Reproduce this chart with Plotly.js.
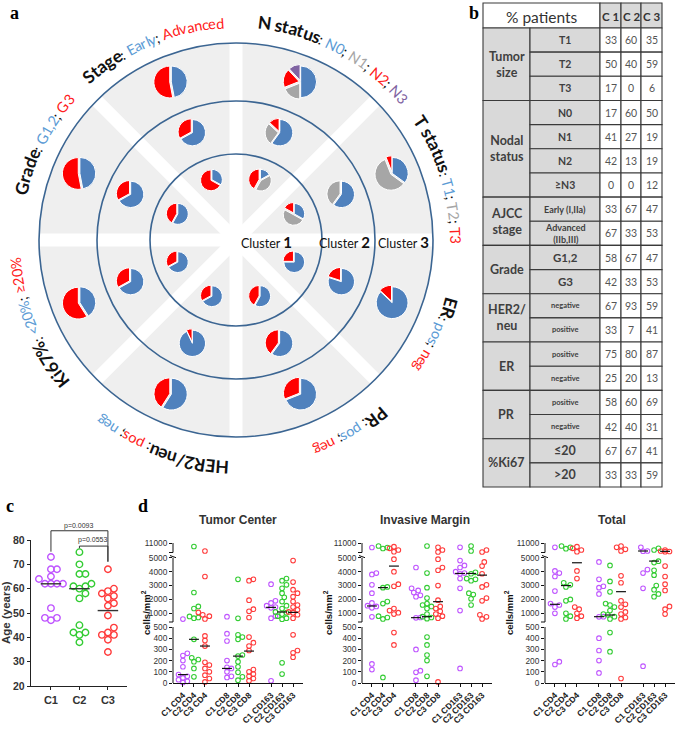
<!DOCTYPE html>
<html><head><meta charset="utf-8">
<script src="https://cdn.plot.ly/plotly-3.0.1.min.js"></script>
<style>body{margin:0;background:#fff}#chart{width:677px;height:729px}</style>
</head><body><div id="chart"></div>
<script>
// ================= DATA =================
// Panel b table (also drives the pies of panel a)
const tableGroups = ["Tumor<br>size","Nodal<br>status","AJCC<br>stage","Grade","HER2/<br>neu","ER","PR","%Ki67"];
const tableGroupSizes = [3,4,2,2,2,2,2,2];
const tableRowLabels = ["T1","T2","T3","N0","N1","N2","≥N3","Early (I,IIa)","Advanced<br>(IIb,III)","G1,2","G3","negative","positive","positive","negative","positive","negative","≤20",">20"];
const clusterNames = ["C 1","C 2","C 3"];
const cluster1Pct = [33,50,17,17,41,42,0,33,67,58,42,67,33,75,25,58,42,67,33];
const cluster2Pct = [60,40,0,60,27,13,0,67,33,67,33,93,7,80,20,60,40,67,33];
const cluster3Pct = [35,59,6,50,19,19,12,47,53,47,53,59,41,87,13,69,31,41,59];

// Panel c: age (years)
const ageCategories = ["C1","C2","C3"];
const ageC1 = [73,68,68,65,64,62,62,62,62,52,48,48,47];
const ageC2 = [75,70,66,66,62,61,61,60,58,56,45,42,42,41,38];
const ageC3 = [68,60,59,58,57,56,54,53,49,44,42,41,41,39,34];
const ageMedians = [62,60,51];

// Panel d: cells/mm2
const dGroupLabels = ["C1 CD4","C2 CD4","C3 CD4","C1 CD8","C2 CD8","C3 CD8","C1 CD163","C2 CD163","C3 CD163"];
const dTickValues = [0,100,200,300,400,500,1000,2000,3000,4000,5000,11000];
const tumorCenterValues = [
  [590,265,245,200,145,75,60,45,30,15,5],
  [10300,2500,1500,1350,780,700,650,390,225,210,190,130,55],
  [9400,3650,1070,900,800,600,420,380,330,185,160,130,100,70,40,10],
  [760,440,375,200,140,130,100,60,50],
  [3450,640,430,410,390,250,240,190,145,95,55,25],
  [3450,3350,1950,1300,1150,700,410,360,330,290,120,100,80,60,40,20],
  [3100,1900,1750,1550,1450,1400,800,650,20],
  [3500,3350,3050,2800,2450,2150,1850,1550,1350,1100,1050,950,800,650,580,180,80],
  [4800,3250,2700,2450,2200,1850,1600,1450,1250,1100,1050,900,650,430,290,270,230]
];
const tumorCenterMedians = [75,390,330,130,240,285,1430,1100,1070];
const invasiveMarginValues = [
  [10100,3900,3800,3050,2450,1750,1550,1500,1400,750,170,120],
  [10400,10100,9900,2900,2850,1850,1700,800,700,600,50],
  [10270,9930,9600,9270,4900,4000,3100,2950,1350,1200,1050,950,450,340],
  [4300,2800,2650,2500,2300,2200,700,680,300,110,95,25],
  [10400,3900,2850,2100,1700,1600,1500,1350,950,760,700,620,410,340,250,200,60],
  [10130,9600,9200,4900,4300,4100,3000,1950,1500,1350,1150,950,800,650,10],
  [10130,4800,4450,4300,4000,3900,3850,3500,2800,1200,130],
  [10400,9400,3950,3850,3500,3450,3350,2450,2350,2050,1600],
  [9600,9200,4700,4400,3850,3050,2900,2100,1900,900,750,600]
];
const invasiveMarginMedians = [1530,2850,4400,690,760,1840,3870,3870,3750];
const totalValues = [
  [10130,4050,3900,3650,2600,1700,1600,1450,1000,190,165],
  [10400,10130,9870,3200,3050,2900,2000,1900,1000,800,600],
  [10270,9930,9600,9270,4050,3500,1450,1300,1000,800,650],
  [4700,3450,2950,2850,2400,760,750,400,290,200,90],
  [4450,3300,2550,1700,1600,1450,1200,950,900,760,600,450,280],
  [10400,10130,9730,9400,3700,3200,1900,1650,1450,1100,950,700,600,40],
  [10130,9400,9350,4150,3900,2800,150],
  [9930,9600,4750,4650,4100,3750,3000,2700,2400,2200],
  [9600,9400,9300,9270,4400,3650,3100,2650,1500,1300,950]
];
const totalMedians = [1650,3000,4640,760,880,2560,9400,4760,9330];

// ================= STYLE / LAYOUT =================
const W=677, H=729;
const BLUE='#4f81bd', RED='#ff0000', GRAY='#a6a6a6', PURPLE='#8064a2';
const T_BLUE='#5b9bd5', T_RED='#ff2020', T_GRAY='#a6a6a6', T_PURPLE='#7f64a2';
const CL_COLORS=['#bf55ff','#33cc33','#ff3b3b'];
const annotations=[], shapes=[], traces=[];
traces.push({type:'scatter',x:[],y:[],xaxis:'x',yaxis:'y',hoverinfo:'skip',showlegend:false});

function txt(x,y,text,size,color,family,extra){
  annotations.push(Object.assign({xref:'x',yref:'y',x:x,y:y,text:text,showarrow:false,
    xanchor:'center',yanchor:'middle',font:{family:family||'Lato',size:size,color:color||'#222'}},extra||{}));
}
function esc(c){return c==='<'?'&lt;':(c==='>'?'&gt;':(c==='&'?'&amp;':c));}

// ---------- Panel a ----------
const A_CX=236, A_CY=240, A_RO=197;
shapes.push({type:'circle',xref:'x',yref:'y',x0:A_CX-A_RO,x1:A_CX+A_RO,y0:A_CY-A_RO,y1:A_CY+A_RO,
  fillcolor:'#efefef',line:{width:0},layer:'below'});
[0,45,90,135].forEach(d=>{
  const a=d*Math.PI/180, ex=A_RO*Math.cos(a), ey=A_RO*Math.sin(a);
  shapes.push({type:'line',xref:'x',yref:'y',x0:A_CX-ex,y0:A_CY+ey,x1:A_CX+ex,y1:A_CY-ey,
    line:{color:'#ffffff',width:13},layer:'below'});
});
[86,139,A_RO].forEach(r=>shapes.push({type:'circle',xref:'x',yref:'y',x0:A_CX-r,x1:A_CX+r,y0:A_CY-r,y1:A_CY+r,
  fillcolor:'rgba(0,0,0,0)',line:{color:'#3b6592',width:1.6},layer:'below'}));

const pieFeatures=[
  {rows:[7,8],colors:[BLUE,RED],angle:112.5},
  {rows:[3,4,5,6],colors:[BLUE,GRAY,RED,PURPLE],angle:67.5},
  {rows:[0,1,2],colors:[BLUE,GRAY,RED],angle:22.5},
  {rows:[13,14],colors:[BLUE,RED],angle:-22.5},
  {rows:[15,16],colors:[BLUE,RED],angle:-67.5},
  {rows:[11,12],colors:[BLUE,RED],angle:-112.5},
  {rows:[17,18],colors:[BLUE,RED],angle:-157.5},
  {rows:[9,10],colors:[BLUE,RED],angle:157.5}
];
const clusterPcts=[cluster1Pct,cluster2Pct,cluster3Pct];
const PIE_CX=236, PIE_CY=238, ringR=[63,114,169], pieBox=[23,29,35];
pieFeatures.forEach(f=>{
  clusterPcts.forEach((pct,ci)=>{
    const a=f.angle*Math.PI/180;
    const px=PIE_CX+ringR[ci]*Math.cos(a), py=PIE_CY-ringR[ci]*Math.sin(a), D=pieBox[ci];
    traces.push({type:'pie',values:f.rows.map(r=>pct[r]),labels:f.rows.map(r=>tableRowLabels[r]),
      marker:{colors:f.colors,line:{color:'#ffffff',width:1}},sort:false,direction:'clockwise',rotation:0,
      textinfo:'none',hoverinfo:'skip',showlegend:false,pull:f.rows.map((r,i)=>i===0?0:0.1),
      domain:{x:[(px-D/2)/W,(px+D/2)/W],y:[1-(py+D/2)/H,1-(py-D/2)/H]}});
  });
});

// curved labels
const cv=document.createElement('canvas').getContext('2d');
const LB_CX=236, LB_CY=242, LB_R=221, LB_BOLD=17.5, LB_REG=14.5;
function tw(s,size,bold){cv.font=(bold?'bold ':'')+size+'px Lato';return cv.measureText(s).width;}
function arcLabel(segs,centerDeg){
  const items=[];
  segs.forEach(sg=>{for(const ch of sg[0]) items.push({ch:ch,color:sg[1],bold:!!sg[2],size:sg[2]?LB_BOLD:LB_REG});});
  items.forEach(it=>it.w=tw(it.ch,it.size,it.bold));
  const total=items.reduce((s,it)=>s+it.w,0);
  const R=LB_R+5*Math.max(0,-Math.sin(centerDeg*Math.PI/180));
  let a=centerDeg*Math.PI/180+total/R/2;
  items.forEach(it=>{
    const mid=a-it.w/2/R; a-=it.w/R;
    if(it.ch===' ') return;
    const r=R+(it.bold?0:-1.5);
    let ang=90-mid*180/Math.PI; while(ang>180) ang-=360; while(ang<-180) ang+=360;
    txt(LB_CX+r*Math.cos(mid),LB_CY-r*Math.sin(mid),it.bold?'<b>'+esc(it.ch)+'</b>':esc(it.ch),
      it.size,it.color,'Lato',{textangle:ang});
  });
}
const K='#111';
arcLabel([["Stage",K,1],[": ",K],["Early",T_BLUE],["; ",K],["Advanced",T_RED]],113);
arcLabel([["N status",K,1],[": ",K],["N0",T_BLUE],["; ",K],["N1",T_GRAY],["; ",K],["N2",T_RED],["; ",K],["N3",T_PURPLE]],62);
arcLabel([["T status",K,1],[": ",K],["T1",T_BLUE],["; ",K],["T2",T_GRAY],["; ",K],["T3",T_RED]],17);
arcLabel([["ER",K,1],[": ",K],["pos",T_BLUE],["; ",K],["neg",T_RED]],-25);
arcLabel([["PR",K,1],[": ",K],["pos",T_BLUE],["; ",K],["neg",T_RED]],-59);
arcLabel([["HER2/neu",K,1],[": ",K],["pos",T_RED],["; ",K],["neg",T_BLUE]],-110);
arcLabel([["Ki67%",K,1],[": ",K],["<20%",T_BLUE],["; ",K],["≥20%",T_RED]],-158);
arcLabel([["Grade",K,1],[": ",K],["G1,2",T_BLUE],["; ",K],["G3",T_RED]],153);

[[266,1],[344,2],[403,3]].forEach(c=>txt(c[0],242,"Cluster <span style='font-size:15px;font-weight:bold'>"+c[1]+"</span>",12.5,'#111','Lato'));

// panel letters
[["a",14,13],["b",474,13],["c",10,506],["d",143,506]].forEach(l=>txt(l[1],l[2],"<b>"+l[0]+"</b>",18,'#000','Liberation Serif'));

// ---------- Panel b: table ----------
const TCOL=[483,530,600,621,641,662], T_TOP=3, T_HEAD=28, T_BOT=487;
const T_RH=(T_BOT-T_HEAD)/tableRowLabels.length;
const T_GRAYF='#d9d9d9', T_LINE='#3a3a3a';
const subLabelSize=[10.5,10.5,10.5,10.5,10.5,10.5,10.5,9,9,11.5,11.5,7.5,7.5,7.5,7.5,7.5,7.5,12.5,12.5];
function cell(x0,y0,x1,y1,fill){shapes.push({type:'rect',xref:'x',yref:'y',x0:x0,x1:x1,y0:y0,y1:y1,fillcolor:fill,line:{color:T_LINE,width:1.1},layer:'above'});}
cell(TCOL[0],T_TOP,TCOL[2],T_HEAD,'#ffffff');
txt((TCOL[0]+TCOL[2])/2,(T_TOP+T_HEAD)/2+1,"% patients",15.5,'#333');
clusterNames.forEach((n,i)=>{cell(TCOL[2+i],T_TOP,TCOL[3+i],T_HEAD,T_GRAYF);txt((TCOL[2+i]+TCOL[3+i])/2,(T_TOP+T_HEAD)/2+1,"<b>"+n+"</b>",11.5,'#333');});
let rr=0;
tableGroups.forEach((g,gi)=>{
  const y0=T_HEAD+rr*T_RH, y1=y0+tableGroupSizes[gi]*T_RH;
  cell(TCOL[0],y0,TCOL[1],y1,T_GRAYF);
  txt((TCOL[0]+TCOL[1])/2,(y0+y1)/2,"<b>"+g+"</b>",12.5,'#3f3f3f');
  rr+=tableGroupSizes[gi];
});
tableRowLabels.forEach((lab,i)=>{
  const y0=T_HEAD+i*T_RH, y1=y0+T_RH;
  cell(TCOL[1],y0,TCOL[2],y1,T_GRAYF);
  txt((TCOL[1]+TCOL[2])/2,(y0+y1)/2,"<b>"+lab+"</b>",subLabelSize[i],'#3f3f3f');
  clusterPcts.forEach((pct,c)=>{
    cell(TCOL[2+c],y0,TCOL[3+c],y1,'#ffffff');
    txt((TCOL[2+c]+TCOL[3+c])/2,(y0+y1)/2,String(pct[i]),10.5,'#555');
  });
});

// ---------- beeswarm helper ----------
function swarm(ys,spacing,maxOff){
  const idx=ys.map((v,i)=>i).sort((a,b)=>ys[a]-ys[b]);
  const placed=[], off=new Array(ys.length).fill(0);
  idx.forEach(i=>{
    const y=ys[i]; let best=0;
    for(let k=0;k<40;k++){
      const cand=(k%2===1?1:-1)*Math.ceil(k/2)*spacing/2;
      if(Math.abs(cand)>maxOff) break;
      if(placed.every(p=>Math.hypot(p[0]-cand,p[1]-y)>=spacing)){best=cand;break;}
    }
    off[i]=best; placed.push([best,y]);
  });
  return off;
}

const layout={width:W,height:H,margin:{l:0,r:0,t:0,b:0},paper_bgcolor:'#ffffff',plot_bgcolor:'rgba(0,0,0,0)',
  showlegend:false,
  xaxis:{domain:[0,1],range:[0,W],visible:false,fixedrange:true},
  yaxis:{domain:[0,1],range:[H,0],visible:false,fixedrange:true}};

// ---------- Panel c ----------
const C_X0=31, C_X1=127, C_XR=[0.3,3.67], C_Y20=686, C_Y80=540;
const cPxPerX=(C_X1-C_X0)/(C_XR[1]-C_XR[0]), cPxPerY=(C_Y20-C_Y80)/60;
const cx2px=x=>C_X0+(x-C_XR[0])*cPxPerX, cy2px=v=>C_Y20-(v-20)*cPxPerY;
layout.xaxis2={domain:[C_X0/W,C_X1/W],range:C_XR,anchor:'y2',showline:true,linecolor:'#222',linewidth:1.3,
  ticks:'outside',ticklen:3,tickcolor:'#222',tickvals:[1,2,3],ticktext:ageCategories.map(s=>'<b>'+s+'</b>'),
  tickfont:{family:'Liberation Sans',size:11,color:'#333'},showgrid:false,zeroline:false,fixedrange:true};
layout.yaxis2={domain:[1-C_Y20/H,1-C_Y80/H],range:[20,80],anchor:'x2',showline:true,linecolor:'#222',linewidth:1.3,
  ticks:'outside',ticklen:3,tickcolor:'#222',tickvals:[20,30,40,50,60,70,80],ticktext:[20,30,40,50,60,70,80].map(v=>'<b>'+v+'</b>'),
  tickfont:{family:'Liberation Sans',size:10.5,color:'#333'},showgrid:false,zeroline:false,fixedrange:true};
[ageC1,ageC2,ageC3].forEach((vals,gi)=>{
  const off=swarm(vals.map(v=>v*cPxPerY),6,14);
  traces.push({type:'scatter',mode:'markers',xaxis:'x2',yaxis:'y2',cliponaxis:false,hoverinfo:'skip',
    x:vals.map((v,i)=>gi+1+off[i]/cPxPerX),y:vals,
    marker:{symbol:'circle-open',size:6.5,color:CL_COLORS[gi],line:{width:1.4,color:CL_COLORS[gi]}}});
});
ageMedians.forEach((m,gi)=>traces.push({type:'scatter',mode:'lines',xaxis:'x2',yaxis:'y2',cliponaxis:false,hoverinfo:'skip',
  x:[gi+1-0.36,gi+1+0.36],y:[m,m],line:{color:'#333',width:1.4}}));
txt(6,613,"<b>Age (years)</b>",11.5,'#333','Liberation Sans',{textangle:-90});
// significance brackets
function bracket(xa,xb,top,la,lb){
  shapes.push({type:'path',xref:'x',yref:'y',path:`M${cx2px(xa)},${cy2px(la)} L${cx2px(xa)},${cy2px(top)} L${cx2px(xb)},${cy2px(top)} L${cx2px(xb)},${cy2px(lb)}`,
    line:{color:'#333',width:1},layer:'above'});
}
bracket(1,3,83.8,75.2,71.1);
bracket(2,3,77.5,76.6,71.1);
txt(cx2px(1.95),cy2px(85.6),"p=0.0093",7,'#333','Liberation Sans');
txt(cx2px(2.45),cy2px(79.8),"p=0.0553",7,'#333','Liberation Sans');

// ---------- Panel d ----------
function fmap(v){ if(v<=500) return v*0.112; if(v<=5000) return 62.7+(v-500)*0.0139; return 130+(v-9000)*0.005; }
const D_Y0=683, D_FR=[0,142], D_W=130, D_XR=[0.1,11.9];
const dPos=[1,2,3,5,6,7,9,10,11];
const dPxPerX=D_W/(D_XR[1]-D_XR[0]);
const dPanels=[
  {x0:173,vals:tumorCenterValues,med:tumorCenterMedians,title:"Tumor Center",tx:238,ytx:146},
  {x0:362,vals:invasiveMarginValues,med:invasiveMarginMedians,title:"Invasive Margin",tx:425,ytx:328},
  {x0:545,vals:totalValues,med:totalMedians,title:"Total",tx:612,ytx:509}
];
dPanels.forEach((p,pi)=>{
  const ax=pi+3;
  layout['xaxis'+ax]={domain:[p.x0/W,(p.x0+D_W)/W],range:D_XR,anchor:'y'+ax,showline:true,linecolor:'#111',linewidth:1,
    ticks:'outside',ticklen:3,tickcolor:'#111',tickvals:dPos,ticktext:dGroupLabels.map(s=>'<b>'+s+'</b>'),tickangle:-45,
    tickfont:{family:'Liberation Sans',size:8.5,color:'#222'},showgrid:false,zeroline:false,fixedrange:true};
  layout['yaxis'+ax]={domain:[1-D_Y0/H,1-(D_Y0-D_FR[1])/H],range:D_FR,anchor:'x'+ax,showline:false,
    ticks:'outside',ticklen:3,tickcolor:'#111',tickvals:dTickValues.map(fmap),ticktext:dTickValues.map(String),
    tickfont:{family:'Liberation Sans',size:8.3,color:'#333'},showgrid:false,zeroline:false,fixedrange:true};
  // broken y axis line
  [[0,56],[61,125.3],[130.5,140]].forEach(s=>shapes.push({type:'line',xref:'x',yref:'y',x0:p.x0,x1:p.x0,y0:D_Y0-s[0],y1:D_Y0-s[1],line:{color:'#111',width:1},layer:'above'}));
  [61,130.5].forEach(f=>shapes.push({type:'line',xref:'x',yref:'y',x0:p.x0-4,x1:p.x0,y0:D_Y0-f,y1:D_Y0-f,line:{color:'#111',width:1},layer:'above'}));
  shapes.push({type:'line',xref:'x',yref:'y',x0:p.x0-3,x1:p.x0+3,y0:D_Y0-127.5,y1:D_Y0-125.3,line:{color:'#111',width:1},layer:'above'});
  // points by cluster colour
  [0,1,2].forEach(c=>{
    const xs=[], ys=[];
    [c,c+3,c+6].forEach(g=>{
      const vals=p.vals[g];
      const off=swarm(vals.map(fmap),4.4,7);
      vals.forEach((v,i)=>{xs.push(dPos[g]+off[i]/dPxPerX); ys.push(fmap(v));});
    });
    traces.push({type:'scatter',mode:'markers',xaxis:'x'+ax,yaxis:'y'+ax,cliponaxis:false,hoverinfo:'skip',x:xs,y:ys,
      marker:{symbol:'circle-open',size:4.6,color:CL_COLORS[c],line:{width:1.1,color:CL_COLORS[c]}}});
  });
  p.med.forEach((m,g)=>traces.push({type:'scatter',mode:'lines',xaxis:'x'+ax,yaxis:'y'+ax,cliponaxis:false,hoverinfo:'skip',
    x:[dPos[g]-0.45,dPos[g]+0.45],y:[fmap(m),fmap(m)],line:{color:'#111',width:1.2}}));
  txt(p.tx,520,"<b>"+p.title+"</b>",12,'#333','Liberation Sans');
  txt(p.ytx,613,"<b>cells/mm<sup>2</sup></b>",9.5,'#111','Liberation Sans',{textangle:-90});
});

layout.shapes=shapes; layout.annotations=annotations;
Plotly.newPlot('chart',traces,layout,{staticPlot:true});
</script></body></html>
